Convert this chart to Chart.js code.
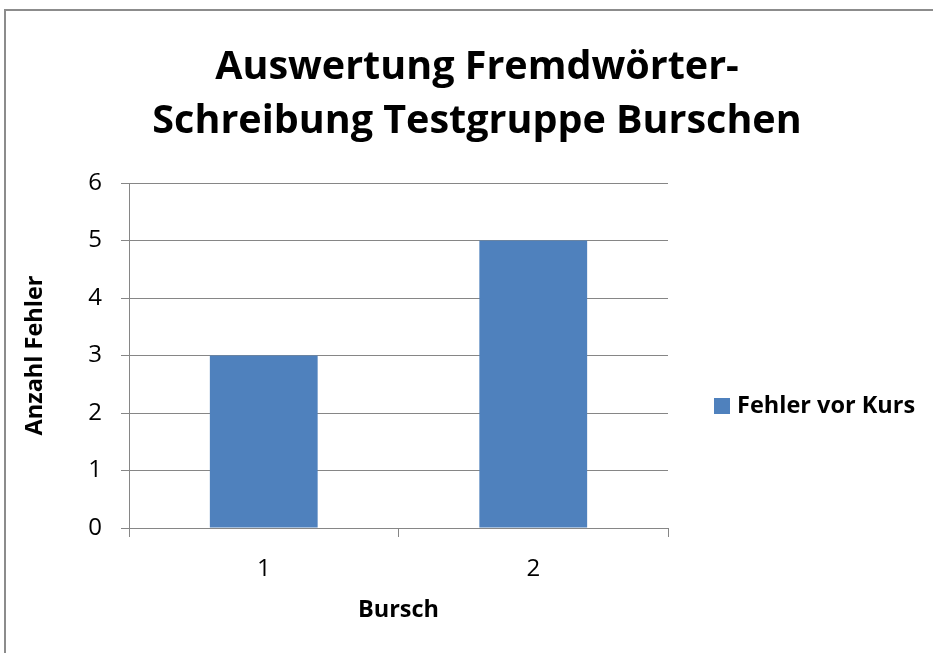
<!DOCTYPE html>
<html>
<head>
<meta charset="utf-8">
<script src="https://cdn.jsdelivr.net/npm/chart.js@4/dist/chart.umd.min.js"></script>
<style>
  html, body { margin: 0; padding: 0; background: #ffffff; }
  canvas { display: block; }
</style>
</head>
<body>
<canvas id="c" width="933" height="653"></canvas>
<script>
const categories = ['1', '2'];
const seriesName = 'Fehler vor Kurs';
const seriesValues = [3, 5];
const yMin = 0;
const yMax = 6;
const yStep = 1;
const titleLines = ['Auswertung Fremdwörter-', 'Schreibung Testgruppe Burschen'];
const xTitle = 'Bursch';
const yTitle = 'Anzahl Fehler';

const FONT = "'Open Sans', 'Liberation Sans', sans-serif";
const GRID = '#868686';
const BAR = '#4F81BD';

const decor = {
  id: 'decor',
  beforeDraw(chart) {
    const ctx = chart.ctx;
    ctx.save();
    ctx.fillStyle = '#ffffff';
    ctx.fillRect(0, 0, chart.width, chart.height);
    ctx.strokeStyle = '#8c8c8c';
    ctx.lineWidth = 2;
    ctx.strokeRect(5, 10, chart.width + 50, chart.height + 50);
    ctx.restore();
  },
  afterDraw(chart) {
    const ctx = chart.ctx;
    ctx.save();
    // title
    ctx.fillStyle = '#000000';
    ctx.font = "bold 39.5px " + FONT;
    ctx.textAlign = 'center';
    ctx.textBaseline = 'middle';
    titleLines.forEach((t, i) => ctx.fillText(t, 477, 68 + i * 54));
    // legend
    chart.data.datasets.forEach((ds, i) => {
      const y = 406 + i * 30;
      ctx.fillStyle = ds.backgroundColor;
      ctx.fillRect(714, y - 8, 16, 16);
      ctx.fillStyle = '#000000';
      ctx.font = "bold 23.5px " + FONT;
      ctx.textAlign = 'left';
      ctx.textBaseline = 'middle';
      ctx.fillText(ds.label, 737, y);
    });
    ctx.restore();
  }
};

new Chart(document.getElementById('c'), {
  type: 'bar',
  data: {
    labels: categories,
    datasets: [{
      label: seriesName,
      data: seriesValues,
      backgroundColor: BAR,
      borderWidth: 0,
      barPercentage: 0.4,
      categoryPercentage: 1.0
    }]
  },
  options: {
    responsive: false,
    animation: false,
    devicePixelRatio: 1,
    layout: { padding: { left: 5, top: 183, right: 265, bottom: 0 } },
    plugins: {
      legend: { display: false },
      title: { display: false },
      tooltip: { enabled: false }
    },
    scales: {
      x: {
        afterFit(scale) { scale.height = 125; },
        grid: { display: true, drawOnChartArea: false, drawTicks: true, tickLength: 9, color: GRID, offset: true },
        border: { display: true, color: GRID, width: 1 },
        ticks: { color: '#000000', font: { family: FONT, size: 24 }, padding: 18 },
        title: { display: true, text: xTitle, color: '#000000', font: { family: FONT, size: 23.5, weight: 'bold' }, padding: { top: 0, bottom: 29 } }
      },
      y: {
        min: yMin,
        max: yMax,
        afterFit(scale) { scale.width = 124; },
        grid: { color: GRID, tickLength: 8, drawTicks: true },
        border: { display: true, color: GRID, width: 1 },
        ticks: { stepSize: yStep, color: '#000000', font: { family: FONT, size: 24 }, padding: 19 },
        title: { display: true, text: yTitle, color: '#000000', font: { family: FONT, size: 23.5, weight: 'bold' }, padding: { top: 16, bottom: 0 } }
      }
    }
  },
  plugins: [decor]
});
</script>
</body>
</html>
